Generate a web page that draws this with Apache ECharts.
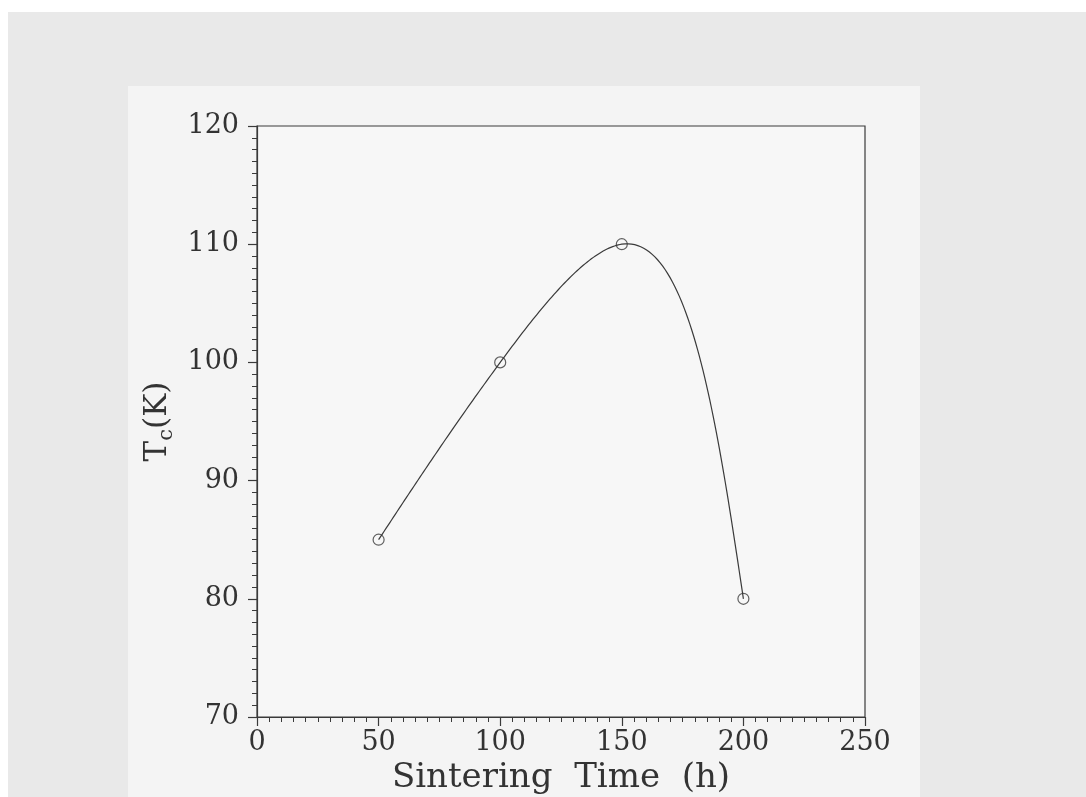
<!DOCTYPE html>
<html>
<head>
<meta charset="utf-8">
<script src="https://cdn.jsdelivr.net/npm/echarts@6/dist/echarts.min.js"></script>
<style>
  html, body { margin: 0; padding: 0; background: #fff; }
  #main { width: 1086px; height: 797px; }
</style>
</head>
<body>
<div id="main"></div>
<script>
  // 数据: 烧结时间 vs Tc
  let timeH = [50, 100, 150, 200];
  let tcK = [85, 100, 110, 80];
  let xTicks = [0, 50, 100, 150, 200, 250];
  let yTicks = [70, 80, 90, 100, 110, 120];

  let myChart = echarts.init(document.getElementById('main'));
  let points = timeH.map((t, i) => [t, tcK[i]]);
  let serif = 'DejaVu Serif';
  let ink = '#3a3a3a';

  // 自然三次样条 (非均匀节点)
  function naturalSpline(s, v) {
    let n = s.length;
    let h = [];
    for (let i = 0; i < n - 1; i++) h.push(s[i + 1] - s[i]);
    let M = new Array(n).fill(0);
    let a = [], b = [], c = [], d = [];
    for (let i = 1; i < n - 1; i++) {
      a.push(h[i - 1]);
      b.push(2 * (h[i - 1] + h[i]));
      c.push(h[i]);
      d.push(6 * ((v[i + 1] - v[i]) / h[i] - (v[i] - v[i - 1]) / h[i - 1]));
    }
    let m = d.length;
    for (let i = 1; i < m; i++) {
      let w = a[i] / b[i - 1];
      b[i] -= w * c[i - 1];
      d[i] -= w * d[i - 1];
    }
    let sol = new Array(m);
    for (let i = m - 1; i >= 0; i--) {
      sol[i] = (d[i] - (i < m - 1 ? c[i] * sol[i + 1] : 0)) / b[i];
    }
    for (let i = 0; i < m; i++) M[i + 1] = sol[i];
    return function (t, i) {
      let hh = h[i];
      let A = s[i + 1] - t, B = t - s[i];
      return M[i] * A * A * A / (6 * hh) + M[i + 1] * B * B * B / (6 * hh)
        + (v[i] / hh - M[i] * hh / 6) * A + (v[i + 1] / hh - M[i + 1] * hh / 6) * B;
    };
  }

  // 参数化样条曲线, 经过各数据点
  function renderCurve(params, api) {
    if (params.dataIndex !== 0) return null;
    let px = points.map(p => api.coord(p));
    let s = [0];
    for (let i = 1; i < px.length; i++) {
      let dx = px[i][0] - px[i - 1][0], dy = px[i][1] - px[i - 1][1];
      s.push(s[i - 1] + Math.pow(dx * dx + dy * dy, 0.4));
    }
    let fx = naturalSpline(s, px.map(p => p[0]));
    let fy = naturalSpline(s, px.map(p => p[1]));
    let out = [];
    for (let i = 0; i < px.length - 1; i++) {
      let steps = 60;
      for (let k = 0; k <= steps; k++) {
        if (i > 0 && k === 0) continue;
        let t = s[i] + (s[i + 1] - s[i]) * k / steps;
        out.push([fx(t, i), fy(t, i)]);
      }
    }
    return {
      type: 'polyline',
      shape: { points: out },
      style: { stroke: ink, lineWidth: 1.2, fill: null }
    };
  }

  let axisCommon = {
    type: 'value',
    axisLine: { show: true, lineStyle: { color: ink, width: 1.2 } },
    axisTick: { show: true, length: 9, lineStyle: { color: ink, width: 1.2 } },
    minorTick: { show: true, splitNumber: 10, length: 5, lineStyle: { color: ink, width: 1 } },
    splitLine: { show: false },
    minorSplitLine: { show: false }
  };

  let option = {
    backgroundColor: '#ffffff',
    animation: false,
    graphic: [
      { type: 'rect', z: -10, silent: true, shape: { x: 8, y: 12, width: 1078, height: 785 }, style: { fill: '#e9e9e9' } },
      { type: 'rect', z: -9, silent: true, shape: { x: 128, y: 86, width: 792, height: 711 }, style: { fill: '#f4f4f4' } }
    ],
    grid: {
      left: 257, right: 221, top: 126, bottom: 80,
      outerBoundsMode: 'none', containLabel: false,
      show: true, borderColor: ink, borderWidth: 1.2, backgroundColor: '#f7f7f7'
    },
    xAxis: Object.assign({}, axisCommon, {
      min: xTicks[0], max: xTicks[xTicks.length - 1], interval: 50,
      name: 'Sintering  Time  (h)',
      nameLocation: 'middle', nameGap: 38,
      nameTextStyle: { fontFamily: serif, fontSize: 34, color: '#333' },
      axisLabel: { fontFamily: serif, fontSize: 27, color: '#333', margin: 12 }
    }),
    yAxis: Object.assign({}, axisCommon, {
      min: yTicks[0], max: yTicks[yTicks.length - 1], interval: 10,
      name: '{t|T}{s|c}{t|(K)}',
      nameLocation: 'middle', nameGap: 80, nameRotate: 90,
      nameTextStyle: {
        fontFamily: serif, color: '#333',
        rich: {
          t: { fontFamily: serif, fontSize: 31, color: '#333', lineHeight: 38 },
          s: { fontFamily: serif, fontSize: 21, color: '#333', lineHeight: 38, verticalAlign: 'bottom' }
        }
      },
      axisLabel: { fontFamily: serif, fontSize: 27, color: '#333', margin: 18 }
    }),
    series: [
      {
        type: 'custom',
        renderItem: renderCurve,
        data: points,
        clip: false,
        z: 2
      },
      {
        type: 'scatter',
        data: points,
        symbol: 'circle',
        symbolSize: 11,
        itemStyle: { color: 'rgba(0,0,0,0)', borderColor: ink, borderWidth: 1.2 },
        z: 3
      }
    ]
  };
  myChart.setOption(option);
</script>
</body>
</html>
